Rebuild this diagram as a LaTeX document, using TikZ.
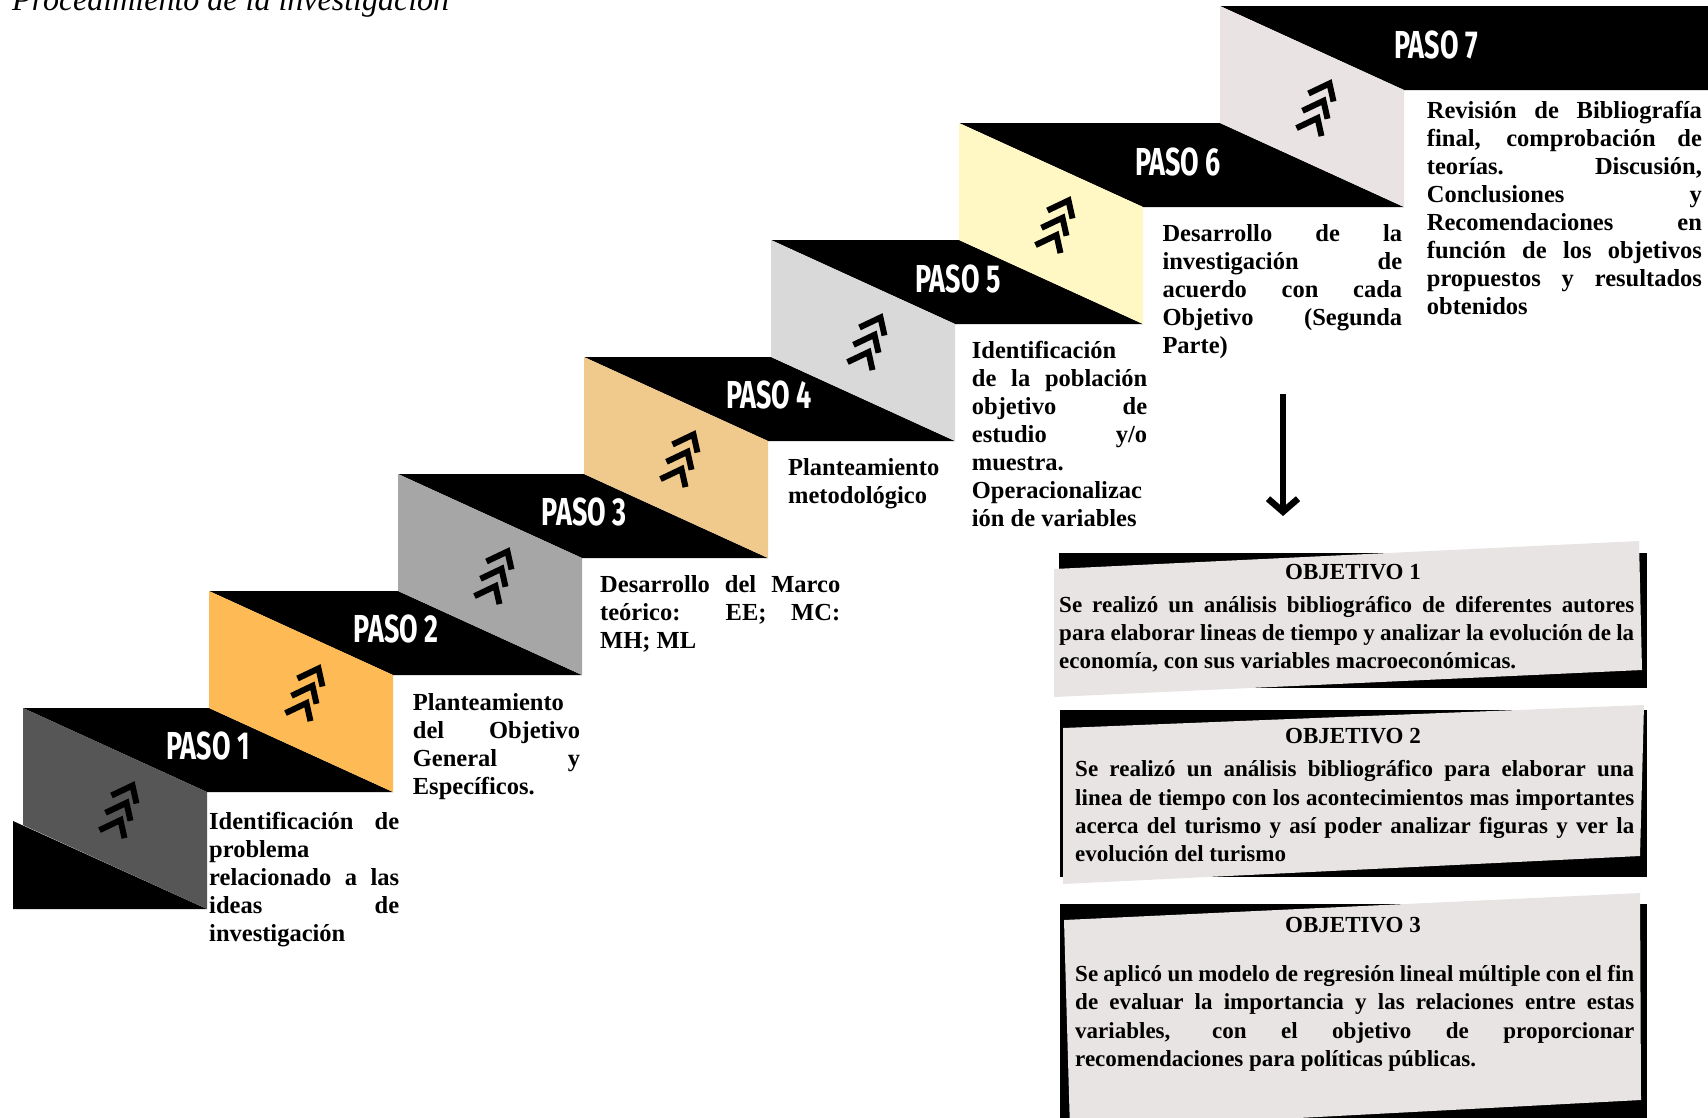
\documentclass[tikz,border=0pt]{standalone}
\usepackage{fontspec}
\setmainfont{Liberation Serif}
\newfontfamily\pasofont{Fira Sans}
\usetikzlibrary{arrows.meta}
\definecolor{faceA}{RGB}{86,86,86}
\definecolor{faceB}{RGB}{254,186,84}
\definecolor{faceC}{RGB}{166,166,166}
\definecolor{faceD}{RGB}{240,201,140}
\definecolor{faceE}{RGB}{217,217,217}
\definecolor{faceF}{RGB}{255,248,196}
\definecolor{faceG}{RGB}{233,227,227}
\definecolor{paper}{RGB}{233,228,228}
\newcommand\jl[2]{\makebox[#1][s]{#2}}
\newcommand\paso[1]{\scalebox{0.69}[1]{PASO #1}}
\newcommand\fl{\rule{0pt}{20pt}}
\tikzset{
  band/.style={fill=black},
  chev/.style={line width=6pt, black, miter limit=10},
  chevs/.pic={
    \draw[chev] (-3.5,-13) -- (17.5,-23) -- (21.5,-5);
    \draw[chev] (-9.5,4.3) -- (11.5,-5.7) -- (15.5,12.3);
    \draw[chev] (-15.5,21.6) -- (5.5,11.6) -- (9.5,29.6);
  },
  pasolbl/.style={text=white, inner sep=0pt, font=\pasofont\bfseries\fontsize{39}{39}\selectfont},
  desc/.style={anchor=north west, inner sep=0pt, align=left, font=\bfseries\fontsize{24.5}{28.1}\selectfont},
  boxtxt/.style={anchor=north west, inner sep=0pt, align=left, font=\bfseries\fontsize{23}{28.2}\selectfont},
  boxtitle/.style={anchor=base, inner sep=0pt, font=\bfseries\fontsize{23}{28}\selectfont},
  arrowline/.style={line width=6.5pt, -{Straight Barb[length=13pt, width=30pt]}},
}
\begin{document}
\begin{tikzpicture}[x=1pt,y=-1pt]
\useasboundingbox (0,0) rectangle (1708,1117);
\clip (0,0) rectangle (1708,1117);
\fill[white] (0,0) rectangle (1708,1117);

% title (cut at top)
\node[anchor=base west, inner sep=0pt, font=\itshape\fontsize{32}{32}\selectfont] (title) at (12,10) {Procedimiento de la investigación};

% bottom black wedge
\fill[band] (13,821) -- (207,909) -- (13,909) -- cycle;

% steps
\foreach \L/\T/\Ln/\c in {23/708/209/faceA, 209/591/398/faceB, 398/474/584/faceC, 584/357/771/faceD, 771/240/959/faceE, 959/123/1220/faceF, 1220/6/1710/faceG}{
  \fill[band] (\L,\T) -- (\Ln,\T) -- (\Ln+184,\T+84) -- (\L+184,\T+84) -- cycle;
  \fill[\c] (\L,\T) -- (\L+184,\T+84) -- (\L+184,\T+201) -- (\L,\T+117) -- cycle;
  \pic at (\L+92,\T+100.5) {chevs};
}

% PASO labels
\node[pasolbl] (p1) at (208,746) {\paso{1}};
\node[pasolbl] (p2) at (396,629) {\paso{2}};
\node[pasolbl] (p3) at (584,512) {\paso{3}};
\node[pasolbl] (p4) at (769,395) {\paso{4}};
\node[pasolbl] (p5) at (958,279) {\paso{5}};
\node[pasolbl] (p6) at (1178,162) {\paso{6}};
\node[pasolbl] (p7) at (1436,45) {\paso{7}};

% step descriptions
\node[desc] (d1) at (209,809) {\fl\jl{190pt}{Identificación de}\\problema\\\jl{190pt}{relacionado a las}\\\jl{190pt}{ideas de}\\investigación};
\node[desc] (d2) at (412.7,690) {\fl Planteamiento\\\jl{167.3pt}{del Objetivo}\\\jl{167.3pt}{General y}\\Específicos.};
\node[desc] (d3) at (600,572) {\fl\jl{240pt}{Desarrollo del Marco}\\\jl{240pt}{teórico: EE; MC:}\\MH; ML};
\node[desc] (d4) at (788,455) {\fl Planteamiento\\metodológico};
\node[desc] (d5) at (971.7,338) {\fl Identificación\\\jl{175.3pt}{de la población}\\\jl{175.3pt}{objetivo de}\\\jl{175.3pt}{estudio y/o}\\muestra.\\Operacionalizac\\ión de variables};
\node[desc] (d6) at (1162.3,221) {\fl\jl{239.7pt}{Desarrollo de la}\\\jl{239.7pt}{investigación de}\\\jl{239.7pt}{acuerdo con cada}\\\jl{239.7pt}{Objetivo (Segunda}\\Parte)};
\node[desc] (d7) at (1426.7,98) {\fl\jl{275pt}{Revisión de Bibliografía}\\\jl{275pt}{final, comprobación de}\\\jl{275pt}{teorías. Discusión,}\\\jl{275pt}{Conclusiones y}\\\jl{275pt}{Recomendaciones en}\\\jl{275pt}{función de los objetivos}\\\jl{275pt}{propuestos y resultados}\\obtenidos};

% arrow
\coordinate (a1) at (1283,394);
\coordinate (a2) at (1283,516);
\draw[arrowline] (a1) -- (a2);

% objective boxes
\fill[band] (1059,553) rectangle (1647,688);
\fill[paper] (1054,569) -- (1639,541) -- (1642,670) -- (1054,697) -- cycle;
\fill[band] (1060,710) rectangle (1647,877);
\fill[paper] (1063,728) -- (1644,705) -- (1640,856) -- (1063,884) -- cycle;
\fill[band] (1060,904) rectangle (1647,1130);
\fill[paper] (1064,920) -- (1640,893) -- (1641,1100) -- (1070,1130) -- cycle;

\node[boxtitle] (o1) at (1353,579.5) {OBJETIVO 1};
\node[boxtxt] (b1) at (1059,592) {\fl\jl{575pt}{Se realizó un análisis bibliográfico de diferentes autores}\\\jl{575pt}{para elaborar lineas de tiempo y analizar la evolución de la}\\economía, con sus variables macroeconómicas.};
\node[boxtitle] (o2) at (1353,743) {OBJETIVO 2};
\node[boxtxt] (b2) at (1075,756.7) {\fl\jl{559pt}{Se realizó un análisis bibliográfico para elaborar una}\\\jl{559pt}{linea de tiempo con los acontecimientos mas importantes}\\\jl{559pt}{acerca del turismo y así poder analizar figuras y ver la}\\evolución del turismo};
\node[boxtitle] (o3) at (1353,932.5) {OBJETIVO 3};
\node[boxtxt] (b3) at (1075,961.5) {\fl\jl{559pt}{Se aplicó un modelo de regresión lineal múltiple con el fin}\\\jl{559pt}{de evaluar la importancia y las relaciones entre estas}\\\jl{559pt}{variables, con el objetivo de proporcionar}\\recomendaciones para políticas públicas.};
\end{tikzpicture}
\end{document}
